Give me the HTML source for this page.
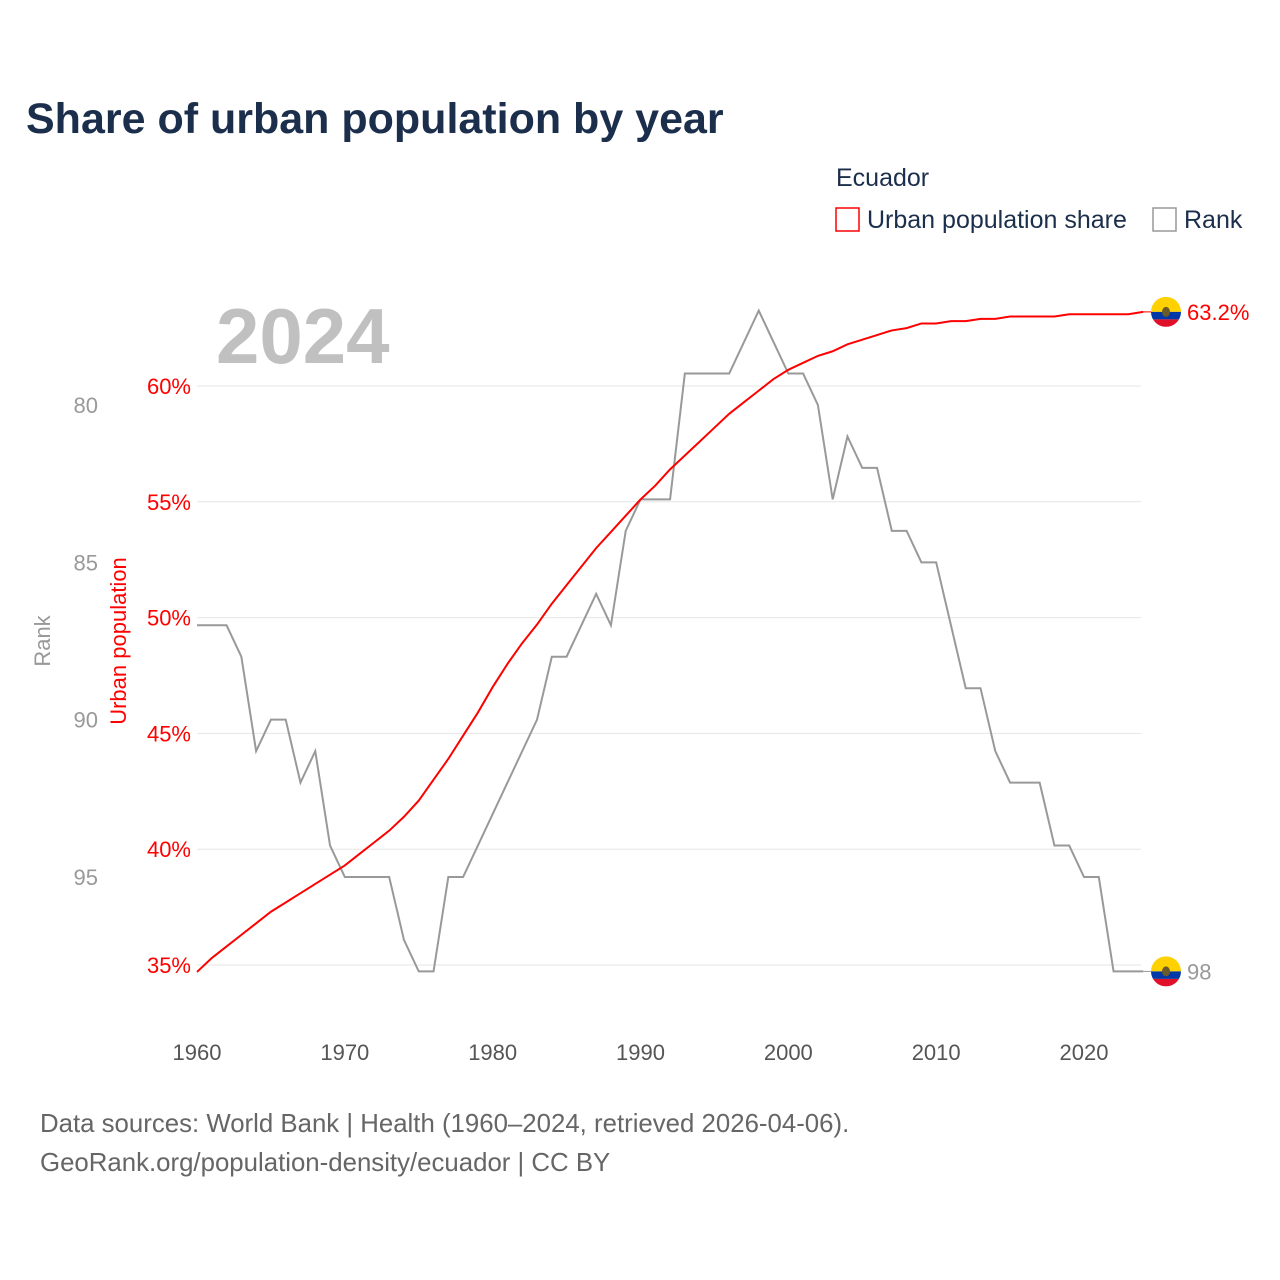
<!DOCTYPE html>
<html><head><meta charset="utf-8"><style>
body{margin:0;background:#fff;font-family:"Liberation Sans",sans-serif}
#wrap{position:relative;width:1280px;height:1280px;overflow:hidden}
</style></head><body>
<div id="wrap">
<svg id="chart" width="1280" height="1280"></svg>
</div>
<script>
const years = [];
for (let y = 1960; y <= 2024; y++) years.push(y);
const urbanShare = [34.7,35.3,35.8,36.3,36.8,37.3,37.7,38.1,38.5,38.9,39.3,39.8,40.3,40.8,41.4,42.1,43.0,43.9,44.9,45.9,47.0,48.0,48.9,49.7,50.6,51.4,52.2,53.0,53.7,54.4,55.1,55.7,56.4,57.0,57.6,58.2,58.8,59.3,59.8,60.3,60.7,61.0,61.3,61.5,61.8,62.0,62.2,62.4,62.5,62.7,62.7,62.8,62.8,62.9,62.9,63.0,63.0,63.0,63.0,63.1,63.1,63.1,63.1,63.1,63.2];
const rank = [87,87,87,88,91,90,90,92,91,94,95,95,95,95,97,98,98,95,95,94,93,92,91,90,88,88,87,86,87,84,83,83,83,79,79,79,79,78,77,78,79,79,80,83,81,82,82,84,84,85,85,87,89,89,91,92,92,92,94,94,95,95,98,98,98];
const xTicks = [1960,1970,1980,1990,2000,2010,2020];
const urbanTicks = [35,40,45,50,55,60];
const rankTicks = [80,85,90,95];

const NS = "http://www.w3.org/2000/svg";
const svg = document.getElementById('chart');
const xS = y => 197 + (y - 1960) * (887 / 60);
const uS = v => 965 - (v - 35) * (579 / 25);
const rS = r => 405 + (r - 80) * (472 / 15);
function el(tag, attrs, text) {
  const e = document.createElementNS(NS, tag);
  for (const k in attrs) e.setAttribute(k, attrs[k]);
  if (text !== undefined) e.textContent = text;
  svg.appendChild(e);
  return e;
}
const F = '"Liberation Sans", sans-serif';
let t;
t = el('text', {x: 26, y: 133, 'font-size': 43, 'font-weight': 'bold', fill: '#1b2e4b', 'font-family': F}, 'Share of urban population by year');
 
t = el('text', {x: 836, y: 186, 'font-size': 25, fill: '#1b2e4b', 'font-family': F}, 'Ecuador');
 
t = el('rect', {x: 836, y: 208, width: 23, height: 23, fill: 'none', stroke: 'red', 'stroke-width': 1.5});
 
t = el('text', {x: 867, y: 228, 'font-size': 25, fill: '#1b2e4b', 'font-family': F}, 'Urban population share');
 
t = el('rect', {x: 1153, y: 208, width: 23, height: 23, fill: 'none', stroke: '#999', 'stroke-width': 1.5});
 
t = el('text', {x: 1184, y: 228, 'font-size': 25, fill: '#1b2e4b', 'font-family': F}, 'Rank');
 
t = el('text', {x: 216, y: 363, 'font-size': 78, 'font-weight': 'bold', fill: '#c0c0c0', 'font-family': F}, '2024');
 

urbanTicks.forEach(v => {
  t = el('line', {x1: 197, x2: 1141, y1: uS(v), y2: uS(v), stroke: '#e6e6e6', 'stroke-width': 1});
   
  t = el('text', {x: 191, y: uS(v) + 8, 'font-size': 22, fill: 'red', 'text-anchor': 'end', 'font-family': F}, v + '%');
   
});
rankTicks.forEach(r => {
  t = el('text', {x: 98, y: rS(r) + 8, 'font-size': 22, fill: '#999', 'text-anchor': 'end', 'font-family': F}, String(r));
   
});
xTicks.forEach(y => {
  t = el('text', {x: xS(y), y: 1060, 'font-size': 22, fill: '#555', 'text-anchor': 'middle', 'font-family': F}, String(y));
   
});
t = el('text', {x: 0, y: 0, 'font-size': 22, fill: '#999', 'text-anchor': 'middle', transform: 'translate(50,641) rotate(-90)', 'font-family': F}, 'Rank');
 
t = el('text', {x: 0, y: 0, 'font-size': 22, fill: 'red', 'text-anchor': 'middle', transform: 'translate(126,641) rotate(-90)', 'font-family': F}, 'Urban population');
 

t = el('polyline', {points: years.map((y, i) => xS(y) + ',' + rS(rank[i])).join(' '), fill: 'none', stroke: '#999', 'stroke-width': 2});
 
t = el('polyline', {points: years.map((y, i) => xS(y) + ',' + uS(urbanShare[i])).join(' '), fill: 'none', stroke: 'red', 'stroke-width': 2});
 

function flag(cy, name) {
  const cx = 1166;
  const g = document.createElementNS(NS, 'g');
  
  
  svg.appendChild(g);
  const cp = 'c' + Math.round(cy);
  g.innerHTML = `<clipPath id="${cp}"><circle cx="${cx}" cy="${cy}" r="15"/></clipPath>
  <g clip-path="url(#${cp})"><rect x="${cx-15}" y="${cy-15}" width="30" height="15" fill="#ffd100"/>
  <rect x="${cx-15}" y="${cy}" width="30" height="7.5" fill="#0038a8"/>
  <rect x="${cx-15}" y="${cy+7.5}" width="30" height="7.5" fill="#e0102b"/></g>
  <ellipse cx="${cx}" cy="${cy}" rx="4" ry="5" fill="#6b5a2a"/>`;
}
const last = years.length - 1;
t = el('line', {x1: 1141, x2: 1151, y1: uS(urbanShare[last]), y2: uS(urbanShare[last]), stroke: 'red', 'stroke-width': 1});
 
t = el('line', {x1: 1141, x2: 1151, y1: rS(rank[last]), y2: rS(rank[last]), stroke: '#999', 'stroke-width': 1});
 
flag(uS(urbanShare[last]), 'urban-end-flag');
flag(rS(rank[last]), 'rank-end-flag');
t = el('text', {x: 1187, y: uS(urbanShare[last]) + 8, 'font-size': 22, fill: 'red', 'font-family': F}, urbanShare[last].toFixed(1) + '%');
 
t = el('text', {x: 1187, y: rS(rank[last]) + 8, 'font-size': 22, fill: '#999', 'font-family': F}, String(rank[last]));
 

t = el('text', {x: 40, y: 1132, 'font-size': 25.8, fill: '#666', 'font-family': F}, 'Data sources: World Bank | Health (1960–2024, retrieved 2026-04-06).');
 
t = el('text', {x: 40, y: 1171, 'font-size': 25.8, fill: '#666', 'font-family': F}, 'GeoRank.org/population-density/ecuador | CC BY');
 
</script>
</body></html>
